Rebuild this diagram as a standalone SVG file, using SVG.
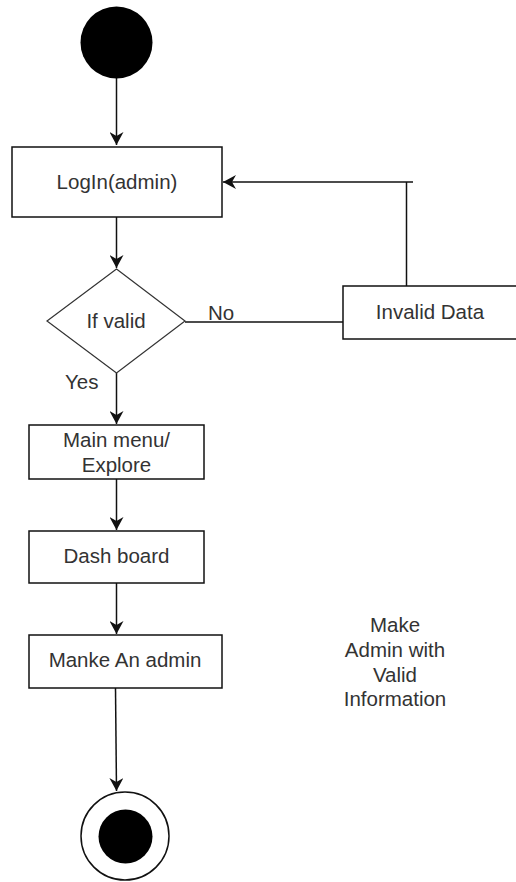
<svg xmlns="http://www.w3.org/2000/svg" width="516" height="882" viewBox="0 0 516 882">
<style>
.box{fill:#fff;stroke:#111;stroke-width:1.5}
.dia{fill:#fff;stroke:#333;stroke-width:1.2}
.edge{fill:none;stroke:#111;stroke-width:1.5}
text{font-family:"Liberation Sans",Arial,sans-serif;font-size:20.5px;fill:#333}
.c{text-anchor:middle}
</style>
<defs>
<marker id="arr" markerUnits="userSpaceOnUse" markerWidth="14" markerHeight="14" viewBox="0 0 14 14" refX="13" refY="7" orient="auto">
<path d="M0,0 L13,7 L0,14 L4,7 Z" fill="#111"/>
</marker>
</defs>
<g id="connectors">
<path class="edge" d="M116.5,78 V145" marker-end="url(#arr)"/>
<path class="edge" d="M116.5,217 V268" marker-end="url(#arr)"/>
<path class="edge" d="M116.5,373 V424" marker-end="url(#arr)"/>
<path class="edge" d="M116.5,479 V530" marker-end="url(#arr)"/>
<path class="edge" d="M116.5,583 V634" marker-end="url(#arr)"/>
<path class="edge" d="M115.5,688 L116.5,791" marker-end="url(#arr)"/>
<path class="edge" d="M185,322 H343"/>
<path class="edge" d="M406.5,286 V182"/>
<path class="edge" d="M413,182 H223" marker-end="url(#arr)"/>
<text x="208" y="320">No</text>
<text x="65" y="389">Yes</text>
</g>
<g id="start"><circle cx="116.5" cy="42.5" r="36" fill="#000"/></g>
<g id="login"><rect class="box" x="12" y="147" width="210" height="70"/><text class="c" x="117" y="189">LogIn(admin)</text></g>
<g id="decision"><polygon class="dia" points="116.5,269 185,321 116.5,373 47,321"/><text class="c" x="116" y="328">If valid</text></g>
<g id="invalid"><rect class="box" x="343" y="286" width="176" height="53"/><text class="c" x="430" y="319">Invalid Data</text></g>
<g id="mainmenu"><rect class="box" x="29" y="425" width="175" height="54"/><text class="c" x="116.5" y="447">Main menu/</text><text class="c" x="116.5" y="472">Explore</text></g>
<g id="dashboard"><rect class="box" x="29" y="531" width="175" height="52"/><text class="c" x="116.5" y="563">Dash board</text></g>
<g id="makeadmin"><rect class="box" x="29" y="635" width="193" height="53"/><text class="c" x="125" y="667">Manke An admin</text></g>
<g id="note"><text class="c" x="395" y="632">Make</text><text class="c" x="395" y="657">Admin with</text><text class="c" x="395" y="682">Valid</text><text class="c" x="395" y="706">Information</text></g>
<g id="end"><circle cx="125" cy="836" r="44" fill="#fff" stroke="#111" stroke-width="1.5"/><circle cx="125.5" cy="836.5" r="27" fill="#000"/></g>
</svg>
